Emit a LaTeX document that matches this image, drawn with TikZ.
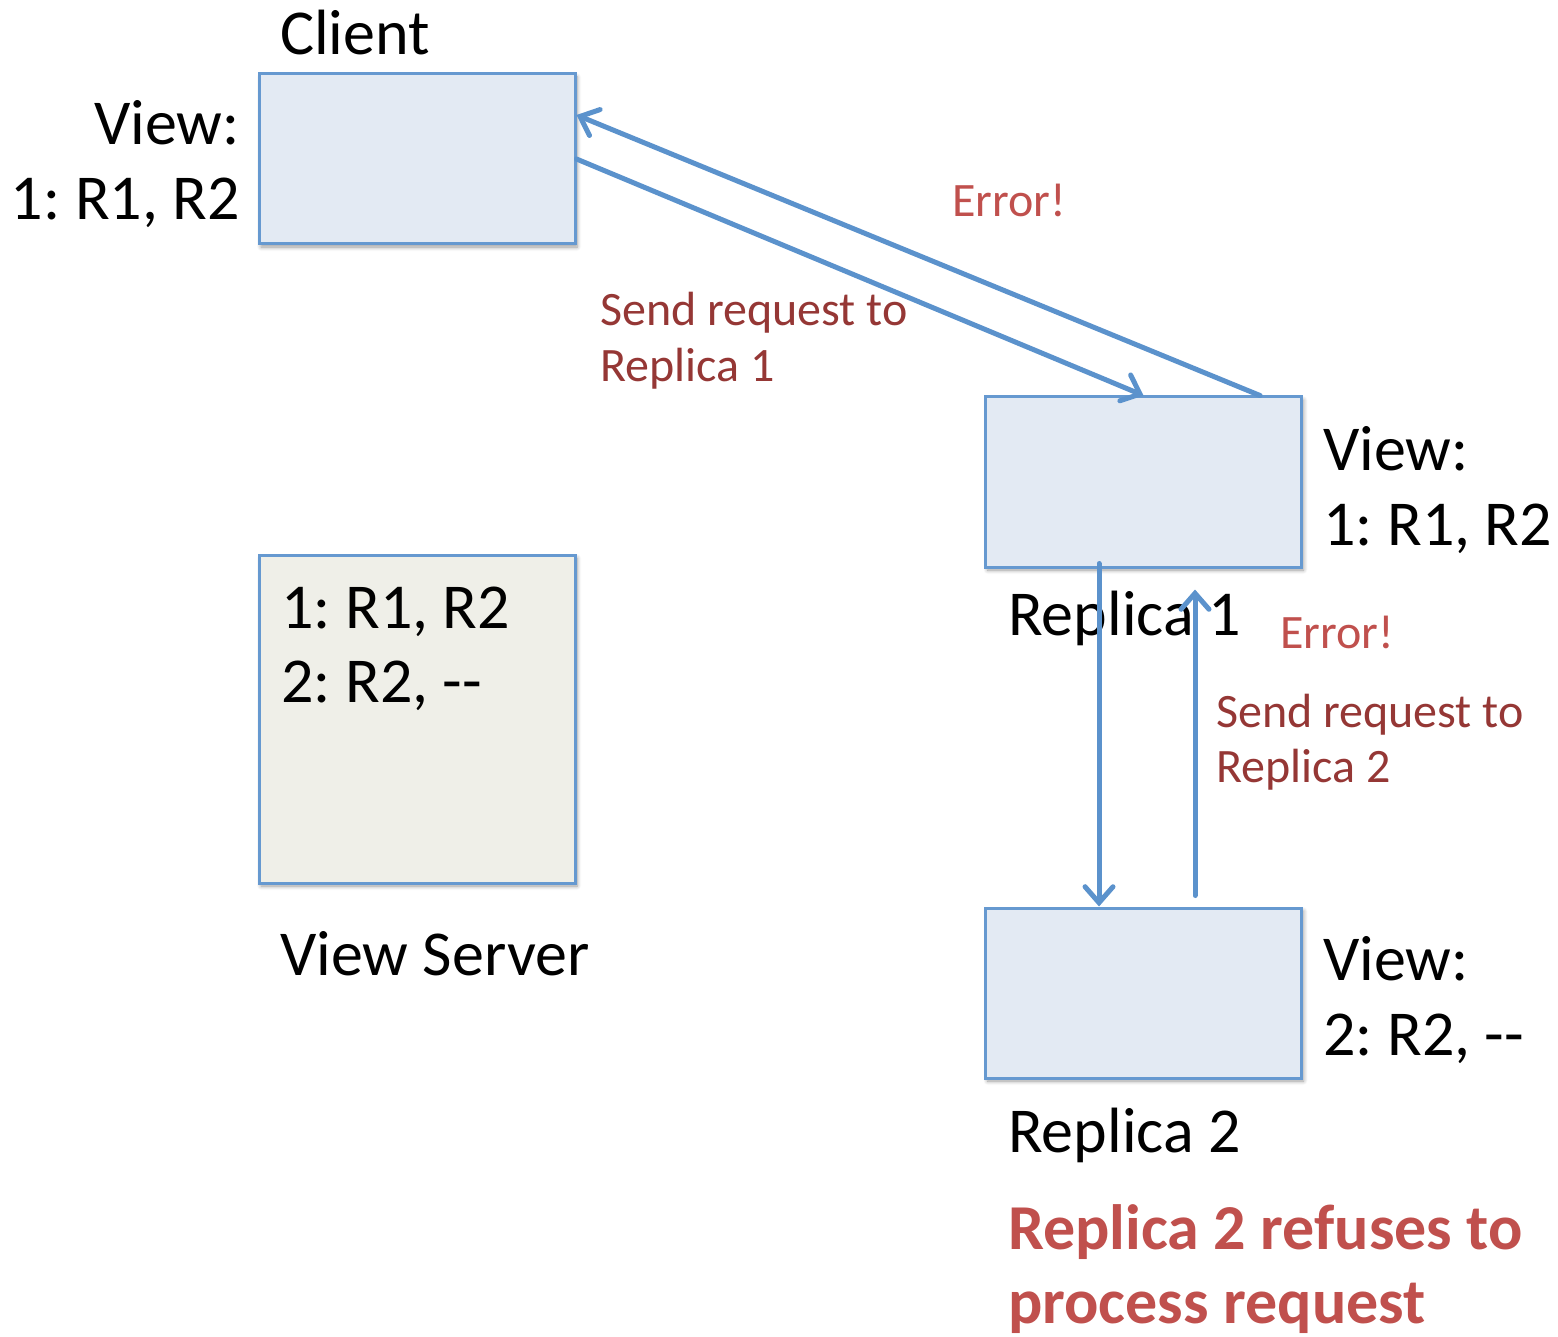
\documentclass[tikz,border=0pt]{standalone}
\usepackage{fontspec}
\setmainfont{Carlito}
\usetikzlibrary{arrows.meta,shadows.blur,calc}
\frenchspacing

\definecolor{boxfill}{RGB}{227,234,243}
\definecolor{serverfill}{RGB}{239,239,232}
\definecolor{boxline}{RGB}{102,153,208}
\definecolor{linkblue}{RGB}{91,146,204}
\definecolor{notered}{RGB}{149,55,53}
\definecolor{errred}{RGB}{192,80,77}

\tikzset{
  machine/.style={draw=boxline, line width=3pt, fill=boxfill,
    minimum width=316pt, inner sep=0pt,
    blur shadow={shadow xshift=2pt, shadow yshift=-3pt, shadow blur radius=4pt,
      shadow blur steps=6, shadow opacity=40}},
  bigtext/.style={anchor=base west, inner sep=0pt, font=\fontsize{64}{75}\selectfont},
  bigtextr/.style={anchor=base east, inner sep=0pt, font=\fontsize{64}{75}\selectfont},
  msgtext/.style={anchor=base west, inner sep=0pt, text=notered, font=\fontsize{48}{56}\selectfont},
  errtext/.style={anchor=base west, inner sep=0pt, text=errred, font=\fontsize{48}{56}\selectfont},
  verdict/.style={anchor=base west, inner sep=0pt, text=errred, font=\bfseries\fontsize{64}{74}\selectfont},
  link/.style={draw=linkblue, line width=5pt, line cap=round,
    -{Straight Barb[length=16pt,width=28pt,line cap=round]}},
}

\begin{document}
\begin{tikzpicture}[x=1pt,y=-1pt]
\useasboundingbox (0,0) rectangle (1558,1337);

% the four machines
\node[machine, minimum height=170pt] (client) at (417,159) {};
\node[machine, minimum height=170pt] (rep1) at (1143.5,482) {};
\node[machine, minimum height=170pt] (rep2) at (1143.5,993) {};
\node[machine, minimum height=328pt, fill=serverfill] (vs) at (417,719) {};

% client
\node[bigtext]  (clientname) at (280,55) {Client};
\node[bigtextr] (cview)  at (240,145) {View:};
\node[bigtextr] (cviewa) at (240,220) {1: R1, R2};

% replica 1
\node[bigtext] (r1view)  at (1323,470) {View:};
\node[bigtext] (r1viewa) at (1323,545) {1: R1, R2};
\node[bigtext] (r1name)  at (1008,635) {Replica 1};

% replica 2
\node[bigtext] (r2view)  at (1323,980) {View:};
\node[bigtext] (r2viewa) at (1323,1055) {2: R2, -{}-};
\node[bigtext] (r2name)  at (1008,1152) {Replica 2};

% view server
\node[bigtext] (vsa) at (281,628) {1: R1, R2};
\node[bigtext] (vsb) at (281,702) {2: R2, -{}-};
\node[bigtext] (vsname) at (280,975) {View Server};

% messages
\draw[link] (client.east) -- (rep1.north);
\draw[link] ([xshift=-43pt]rep1.north east) -- ([yshift=44pt]client.east);
\draw[link] ([xshift=-44.5pt,yshift=5pt]rep1.south) -- ([xshift=-44.5pt]rep2.north);
\draw[link] ([xshift=51.5pt,yshift=11pt]rep2.north) -- ([xshift=51.5pt,yshift=-21pt]rep1.south);

% message labels
\node[msgtext] (m1a) at (600,326) {Send request to};
\node[msgtext] (m1b) at (600,382) {Replica 1};
\node[errtext] (e1)  at (952,217) {Error!};
\node[errtext] (e2)  at (1280,648) {Error!};
\node[msgtext] (m2a) at (1216,727) {Send request to};
\node[msgtext] (m2b) at (1216,782) {Replica 2};

% outcome
\node[verdict] (outa) at (1008,1249) {Replica 2 refuses to};
\node[verdict] (outb) at (1008,1323) {process request};
\end{tikzpicture}
\end{document}
